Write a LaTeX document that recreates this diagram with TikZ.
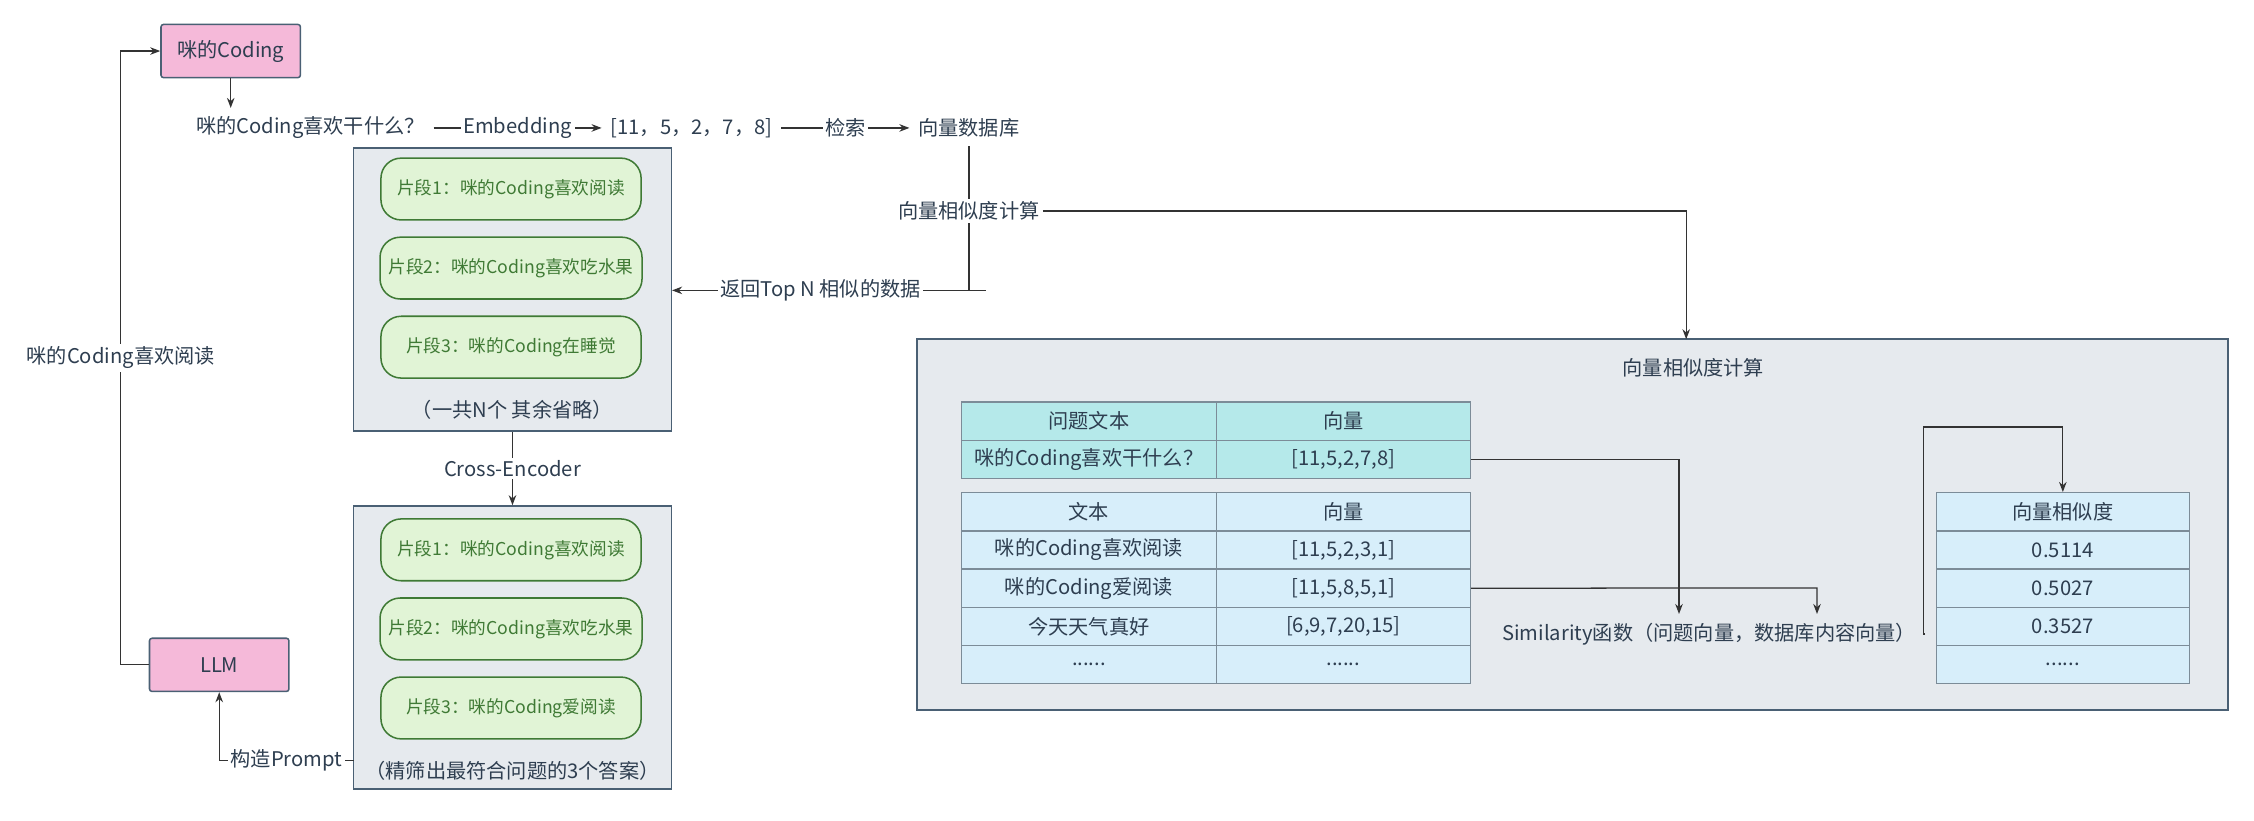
\documentclass[tikz,border=0pt]{standalone}
\usepackage{fontspec}
\setmainfont{Noto Sans CJK SC}
\usetikzlibrary{arrows.meta,positioning}
\definecolor{txt}{HTML}{2E3E50}
\definecolor{edge}{HTML}{4A6074}
\definecolor{pinkf}{HTML}{F5B9D9}
\definecolor{greyf}{HTML}{E6EAEE}
\definecolor{pillf}{HTML}{E1F4D6}
\definecolor{pilld}{HTML}{3F7A35}
\definecolor{tealf}{HTML}{B5E9EA}
\definecolor{bluef}{HTML}{D7EEFA}
\definecolor{cellb}{HTML}{7C8C98}
\newcommand{\sixdots}{......}
\tikzset{
  every node/.style={text=txt,font=\fontsize{8}{10}\selectfont},
  conn/.style={draw=black!80,line width=0.5pt},
  arr/.style={conn,-{Stealth[length=4pt,width=3pt]}},
  llmbox/.style={draw=edge,fill=pinkf,rounded corners=1pt,line width=0.6pt,minimum width=97*0.02cm,minimum height=37*0.02cm},
  group/.style={draw=edge,fill=greyf,line width=0.6pt,minimum width=221*0.02cm,minimum height=197*0.02cm},
  pill/.style={draw=pilld,fill=pillf,rounded corners=8pt,line width=0.6pt,minimum width=181*0.02cm,minimum height=43*0.02cm,text=pilld,font=\fontsize{7}{9}\selectfont},
  cell/.style={draw=cellb,line width=0.5pt,minimum width=177*0.02cm,minimum height=26.6*0.02cm,inner sep=0pt},
  qcell/.style={cell,fill=tealf},
  dcell/.style={cell,fill=bluef}
}
\begin{document}
\begin{tikzpicture}[x=0.02cm,y=-0.02cm]
  \useasboundingbox (0,0) rectangle (1568,571);

  % top row
  \node[llmbox] (coding) at (160.5,35.5) {咪的Coding};
  \node (q) at (216,89) {咪的Coding喜欢干什么？};
  \node (emb) at (481,89) {[11，5，2，7，8]};
  \node (db) at (674,89) {向量数据库};
  \draw[arr] (coding.south) -- (coding.south |- q.north);
  \draw[arr] (q) -- node[fill=white,inner sep=1pt] {Embedding} (emb);
  \draw[arr] (emb) -- node[fill=white,inner sep=1pt] {检索} (db);

  % first group of fragments
  \node[group] (g1) at (356.5,201.5) {};
  \node[pill] (p1) at (355.5,131.5) {片段1：咪的Coding喜欢阅读};
  \node[pill] (p2) at (355.5,186.5) {片段2：咪的Coding喜欢吃水果};
  \node[pill] (p3) at (355.5,241.5) {片段3：咪的Coding在睡觉};
  \node (c1) at (356.5,285) {（一共N个 其余省略）};

  % return path
  \coordinate (ret) at (686,202);
  \draw[conn] (db.south) -- node[fill=white,inner sep=1pt,pos=0.45] (sim) {向量相似度计算} (db.south |- ret) -- (ret);
  \draw[arr] (db.south |- ret) -- node[fill=white,inner sep=1pt] {返回Top N 相似的数据} (g1.east |- ret);

  % cross encoder
  \node[group] (g2) at (356.5,450.5) {};
  \node[pill] (r1) at (355.5,382.5) {片段1：咪的Coding喜欢阅读};
  \node[pill] (r2) at (355.5,437.5) {片段2：咪的Coding喜欢吃水果};
  \node[pill] (r3) at (355.5,492.5) {片段3：咪的Coding爱阅读};
  \node (c2) at (356.5,536) {（精筛出最符合问题的3个答案）};
  \draw[arr] (g1.south) -- node[fill=white,inner sep=1pt] {Cross-Encoder} (g2.north);

  % LLM
  \node[llmbox] (llm) at (152.5,462.5) {LLM};
  \coordinate (pr) at (246,529);
  \draw[arr] (pr) -- node[fill=white,inner sep=1pt] {构造Prompt} (llm.south |- pr) -- (llm.south);
  \coordinate (lft) at (84,462.5);
  \draw[arr] (llm.west) -- (lft) -- node[fill=white,inner sep=1pt] {咪的Coding喜欢阅读} (lft |- coding.west) -- (coding.west);

  % similarity box
  \node[group,minimum width=912*0.02cm,minimum height=258*0.02cm] (big) at (1094,365) {};
  \node (bigt) at (1178,256) {向量相似度计算};
  \coordinate (btop) at (1173,236);
  \draw[arr] (sim.east) -| (btop);

  % question table
  \node[qcell] (qa) at (757.5,293) {问题文本};
  \node[qcell] (qb) at (934.5,293) {向量};
  \node[qcell] (qc) at (757.5,319.5) {咪的Coding喜欢干什么？};
  \node[qcell] (qd) at (934.5,319.5) {[11,5,2,7,8]};

  % data table
  \foreach \i/\t/\v in {0/文本/向量,1/咪的Coding喜欢阅读/{[11,5,2,3,1]},2/咪的Coding爱阅读/{[11,5,8,5,1]},3/今天天气真好/{[6,9,7,20,15]},4/\sixdots/\sixdots}{
    \node[dcell] (da\i) at (757.5,356+\i*26.6) {\t};
    \node[dcell] (db\i) at (934.5,356+\i*26.6) {\v};
  }

  % result table
  \foreach \i/\t in {0/向量相似度,1/0.5114,2/0.5027,3/0.3527,4/\sixdots}
    \node[dcell,minimum width=176*0.02cm] (s\i) at (1435,356+\i*26.6) {\t};

  % similarity function
  \node (fn) at (1189,441) {Similarity函数（问题向量，数据库内容向量）};
  \draw[arr] (qd.east) -- (1168,319.5) -- (1168,319.5 |- fn.north);
  \draw[arr] (db2.east) -- (1264,409) -- (1264,409 |- fn.north);
  \draw[arr] (fn.east) -- (1338,441) -- (1338,297) -- (1435,297) -- (s0.north);
\end{tikzpicture}
\end{document}
